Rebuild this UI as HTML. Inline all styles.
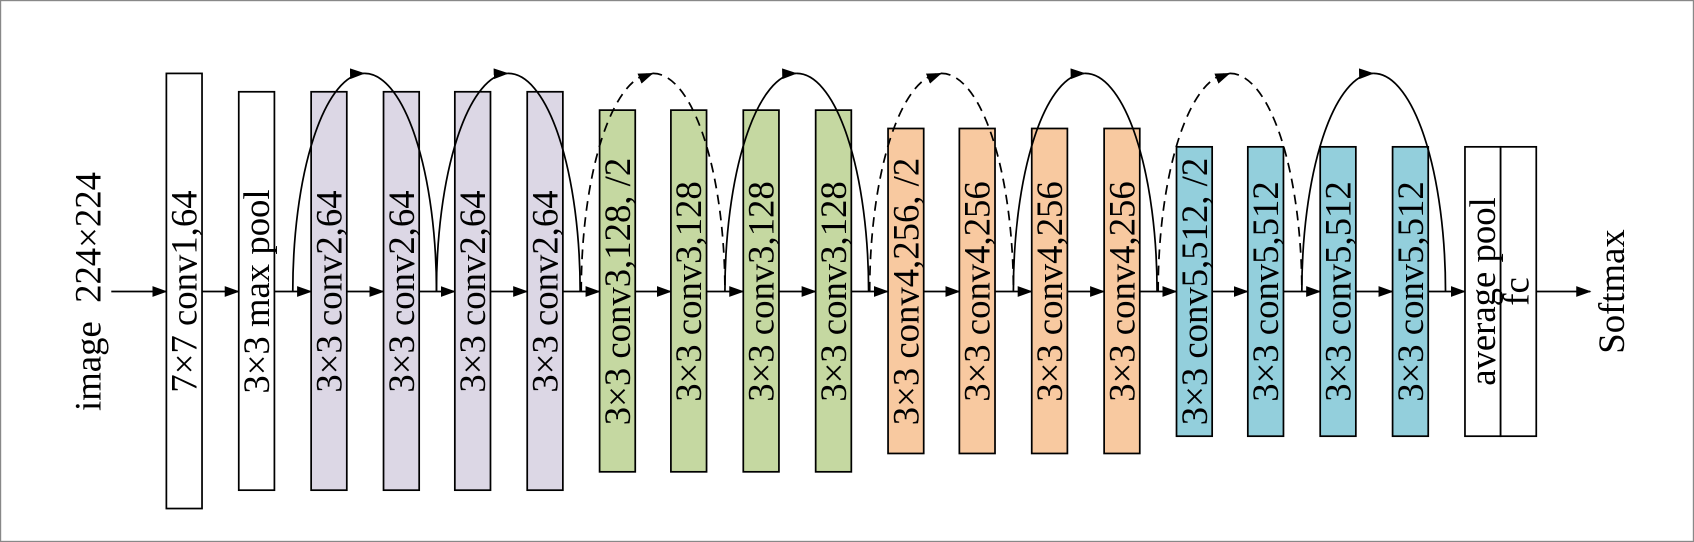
<!DOCTYPE html>
<html><head><meta charset="utf-8"><style>
html,body{margin:0;padding:0;background:#fff}
svg{display:block}
text{font-family:"Liberation Serif","Times New Roman",serif;font-size:34px;fill:#000}
</style></head><body>
<svg width="1694" height="542" viewBox="0 0 1568 502" preserveAspectRatio="none" xmlns="http://www.w3.org/2000/svg">
<defs>
<marker id="a" markerWidth="14" markerHeight="10" refX="13" refY="5" orient="auto" markerUnits="userSpaceOnUse">
<path d="M0,0 L14,5 L0,10 Z" fill="#000"/></marker>
</defs>
<rect x="0.5" y="0.5" width="1567" height="501" fill="#fff" stroke="#888" stroke-width="1.2"/>
<g stroke="#000" stroke-width="1.6">
<line x1="103" y1="270" x2="154" y2="270" marker-end="url(#a)"/>
<line x1="187" y1="270" x2="221" y2="270" marker-end="url(#a)"/>
<line x1="254" y1="270" x2="288" y2="270" marker-end="url(#a)"/>
<line x1="321" y1="270" x2="355" y2="270" marker-end="url(#a)"/>
<line x1="388" y1="270" x2="421" y2="270" marker-end="url(#a)"/>
<line x1="454" y1="270" x2="488" y2="270" marker-end="url(#a)"/>
<line x1="521" y1="270" x2="555" y2="270" marker-end="url(#a)"/>
<line x1="588" y1="270" x2="621" y2="270" marker-end="url(#a)"/>
<line x1="654" y1="270" x2="688" y2="270" marker-end="url(#a)"/>
<line x1="721" y1="270" x2="755" y2="270" marker-end="url(#a)"/>
<line x1="788" y1="270" x2="822" y2="270" marker-end="url(#a)"/>
<line x1="855" y1="270" x2="888" y2="270" marker-end="url(#a)"/>
<line x1="921" y1="270" x2="955" y2="270" marker-end="url(#a)"/>
<line x1="988" y1="270" x2="1022" y2="270" marker-end="url(#a)"/>
<line x1="1055" y1="270" x2="1089" y2="270" marker-end="url(#a)"/>
<line x1="1122" y1="270" x2="1155" y2="270" marker-end="url(#a)"/>
<line x1="1188" y1="270" x2="1222" y2="270" marker-end="url(#a)"/>
<line x1="1255" y1="270" x2="1289" y2="270" marker-end="url(#a)"/>
<line x1="1322" y1="270" x2="1356" y2="270" marker-end="url(#a)"/>
<line x1="1422" y1="270" x2="1472" y2="270" marker-end="url(#a)"/>
</g>
<g stroke="#000" stroke-width="1.6">
<rect x="154" y="68" width="33" height="403" fill="#fff"/>
<rect x="221" y="85" width="33" height="369" fill="#fff"/>
<g fill="#dcd7e5">
<rect x="288" y="85" width="33" height="369"/><rect x="355" y="85" width="33" height="369"/>
<rect x="421" y="85" width="33" height="369"/><rect x="488" y="85" width="33" height="369"/></g>
<g fill="#c5d8a1">
<rect x="555" y="102" width="33" height="335"/><rect x="621" y="102" width="33" height="335"/>
<rect x="688" y="102" width="33" height="335"/><rect x="755" y="102" width="33" height="335"/></g>
<g fill="#f8c9a0">
<rect x="822" y="119" width="33" height="301"/><rect x="888" y="119" width="33" height="301"/>
<rect x="955" y="119" width="33" height="301"/><rect x="1022" y="119" width="33" height="301"/></g>
<g fill="#93cfdc">
<rect x="1089" y="136" width="33" height="268"/><rect x="1155" y="136" width="33" height="268"/>
<rect x="1222" y="136" width="33" height="268"/><rect x="1289" y="136" width="33" height="268"/></g>
<rect x="1356" y="136" width="33" height="268" fill="#fff"/>
<rect x="1389" y="136" width="33" height="268" fill="#fff"/>
</g>
<g fill="none" stroke="#000" stroke-width="1.6">
<g id="arc">
<path d="M271,270 A66.5,202 0 0 1 337,68" marker-end="url(#a)"/>
<path d="M337,68 A66.5,202 0 0 1 404,270"/>
</g>
<use href="#arc" transform="translate(133,0)"/>
<use href="#arc" transform="translate(400,0)"/>
<use href="#arc" transform="translate(667,0)"/>
<use href="#arc" transform="translate(934,0)"/>
<g stroke-dasharray="9,6">
<path d="M538,270 A66.5,202 0 0 1 604,68"/>
<path d="M604,68 A66.5,202 0 0 1 671,270"/>
<path d="M805,270 A66.5,202 0 0 1 871,68"/>
<path d="M871,68 A66.5,202 0 0 1 938,270"/>
<path d="M1072,270 A66.5,202 0 0 1 1138,68"/>
<path d="M1138,68 A66.5,202 0 0 1 1205,270"/>
</g>
<path d="M594,72 L604,68" marker-end="url(#a)"/>
<path d="M861,72 L871,68" marker-end="url(#a)"/>
<path d="M1128,72 L1138,68" marker-end="url(#a)"/>
</g>
<g text-anchor="middle" font-family="Liberation Serif, serif">
<text transform="translate(93,270) rotate(-90)">image&#160;&#160;224×224</text>
<text transform="translate(182,270) rotate(-90)">7×7 conv1,64</text>
<text transform="translate(249,270) rotate(-90)">3×3 max pool</text>
<text transform="translate(316,270) rotate(-90)">3×3 conv2,64</text>
<text transform="translate(383,270) rotate(-90)">3×3 conv2,64</text>
<text transform="translate(449,270) rotate(-90)">3×3 conv2,64</text>
<text transform="translate(516,270) rotate(-90)">3×3 conv2,64</text>
<text transform="translate(583,270) rotate(-90)">3×3 conv3,128, /2</text>
<text transform="translate(649,270) rotate(-90)">3×3 conv3,128</text>
<text transform="translate(716,270) rotate(-90)">3×3 conv3,128</text>
<text transform="translate(783,270) rotate(-90)">3×3 conv3,128</text>
<text transform="translate(850,270) rotate(-90)">3×3 conv4,256, /2</text>
<text transform="translate(916,270) rotate(-90)">3×3 conv4,256</text>
<text transform="translate(983,270) rotate(-90)">3×3 conv4,256</text>
<text transform="translate(1050,270) rotate(-90)">3×3 conv4,256</text>
<text transform="translate(1117,270) rotate(-90)">3×3 conv5,512, /2</text>
<text transform="translate(1183,270) rotate(-90)">3×3 conv5,512</text>
<text transform="translate(1250,270) rotate(-90)">3×3 conv5,512</text>
<text transform="translate(1317,270) rotate(-90)">3×3 conv5,512</text>
<text transform="translate(1384,270) rotate(-90)">average pool</text>
<text transform="translate(1415,270) rotate(-90)">fc</text>
<text transform="translate(1503,270) rotate(-90)">Softmax</text>
</g>
</svg>
</body></html>
